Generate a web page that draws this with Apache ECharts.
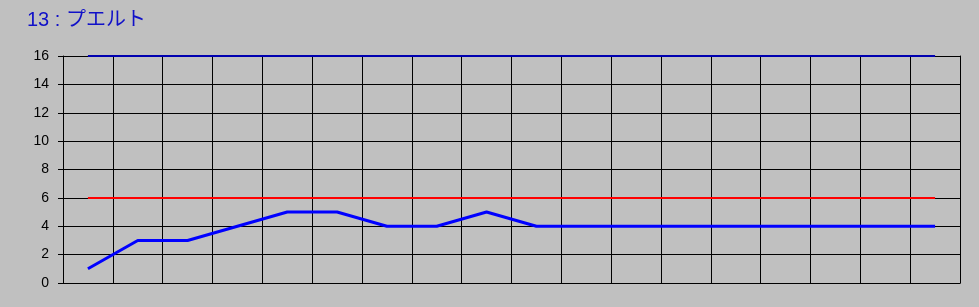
<!DOCTYPE html>
<html><head><meta charset="utf-8">
<script src="https://cdn.jsdelivr.net/npm/echarts@6/dist/echarts.min.js"></script>
<style>html,body{margin:0;padding:0;background:#c0c0c0}#c{width:979px;height:307px}</style>
</head><body><div id="c"></div>
<script>
const title = '13 : プエルト';
const categories = ['1','2','3','4','5','6','7','8','9','10','11','12','13','14','15','16','17','18'];
const values = [1,3,3,4,5,5,4,4,5,4,4,4,4,4,4,4,4,4];
const upperLimit = [16,16,16,16,16,16,16,16,16,16,16,16,16,16,16,16,16,16];
const lowerLimit = [6,6,6,6,6,6,6,6,6,6,6,6,6,6,6,6,6,6];
const yTicks = {min:0, max:16, interval:2};

const chart = echarts.init(document.getElementById('c'), null, {renderer:'canvas'});
chart.setOption({
  backgroundColor:'#c0c0c0',
  animation:false,
  title:{text:title,left:22,top:5,textStyle:{color:'#1010c8',fontSize:20,fontWeight:'normal',fontFamily:'"Liberation Sans", "Noto Sans CJK JP"'}},
  grid:{left:63,width:897,top:56,height:227},
  xAxis:{type:'category',data:categories,boundaryGap:true,
    axisLine:{lineStyle:{color:'#000'}},axisTick:{show:false},axisLabel:{show:false},
    splitLine:{show:true,interval:0,lineStyle:{color:'#000',width:1}}},
  yAxis:[{type:'value',min:yTicks.min,max:yTicks.max,interval:yTicks.interval,
    axisLine:{show:true,lineStyle:{color:'#000'}},
    axisTick:{show:true,length:5,lineStyle:{color:'#000'}},
    axisLabel:{color:'#000',fontSize:14,fontFamily:'Liberation Sans',margin:14},
    splitLine:{show:true,lineStyle:{color:'#000',width:1}}},
    {type:'value',position:'right',min:yTicks.min,max:yTicks.max,interval:yTicks.interval,
    axisLine:{show:true,lineStyle:{color:'#000',width:1}},axisTick:{show:false},axisLabel:{show:false},splitLine:{show:false}}],
  series:[
    {type:'line',data:upperLimit,showSymbol:false,symbol:'none',lineStyle:{color:'#0000b0',width:2},z:3},
    {type:'line',data:lowerLimit,showSymbol:false,symbol:'none',lineStyle:{color:'#ff0000',width:2},z:3},
    {type:'line',data:values,showSymbol:false,symbol:'none',lineStyle:{color:'#0000ff',width:3},z:4}
  ]
});
</script></body></html>
